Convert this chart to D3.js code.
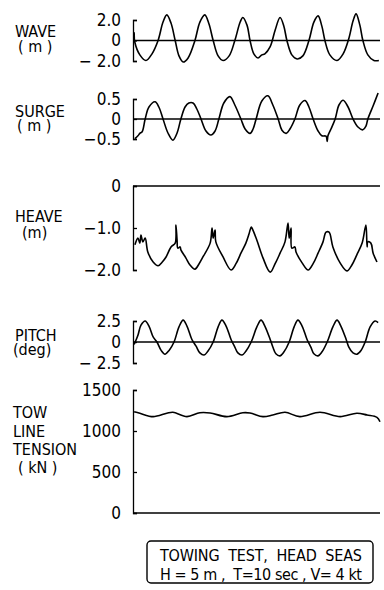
<!DOCTYPE html>
<html>
<head>
<meta charset="utf-8">
<script src="https://cdn.jsdelivr.net/npm/d3@7"></script>
<style>
  body { margin: 0; background: #fff; }
  svg text { font-family: "DejaVu Sans Condensed", "DejaVu Sans", sans-serif; font-stretch: condensed; fill: #000; }
  .axis path, .axis line { stroke: #000; stroke-width: 1.3; }
  .axis text { font-size: 17px; }
</style>
</head>
<body>
<svg id="chart"></svg>
<script>
// time (sec), value pairs
var waveData = [
  [0.3, 0.8], [0.5, -0.2], [1.8, -1.4], [3.4, -1.95], [5.0, -1.3], [6.6, 0], [7.9, 1.8], [8.9, 2.5],
  [10.0, 1.7], [11.1, 0], [12.1, -1.5], [13.2, -2.1], [14.5, -1.7], [16.3, 0], [17.6, 1.8], [18.9, 2.5],
  [20.0, 1.6], [21.1, 0], [22.4, -1.5], [23.7, -1.95], [25.3, -1.5], [26.8, 0], [28.2, 1.8], [28.9, 2.25],
  [30.0, 1.5], [30.8, 0], [31.8, -1.3], [32.9, -1.7], [33.9, -1.4], [34.7, -1.3], [36.1, -0.6], [37.4, 1.0],
  [38.7, 2.25], [39.7, 1.4], [40.5, 0], [41.8, -1.4], [43.2, -1.8], [44.7, -1.5], [46.3, 0], [47.6, 1.8],
  [48.7, 2.4], [49.7, 1.4], [50.5, 0], [51.8, -1.4], [53.7, -1.95], [55.3, -1.3], [56.8, 0.2], [57.9, 1.9],
  [58.7, 2.6], [59.7, 1.5], [60.5, 0], [61.8, -1.4], [63.4, -1.95], [64.7, -1.95]
]
var surgeData = [
  [0.5, -0.49], [1.3, -0.42], [1.8, -0.36], [2.4, -0.32], [3.2, 0], [4.2, 0.3], [5.8, 0.43], [6.8, 0.3],
  [7.9, 0], [9.2, -0.35], [10.5, -0.53], [11.6, -0.35], [12.6, 0], [13.7, 0.3], [14.7, 0.4], [15.8, 0.4],
  [16.8, 0.25], [17.9, 0], [19.2, -0.3], [20.5, -0.4], [21.6, -0.3], [22.6, 0], [23.9, 0.4], [25.5, 0.56],
  [26.8, 0.35], [28.4, 0], [29.5, -0.25], [30.8, -0.36], [31.6, -0.25], [32.4, 0], [33.9, 0.45], [35.5, 0.58],
  [36.8, 0.35], [38.2, 0], [39.2, -0.28], [40.3, -0.36], [41.3, -0.25], [42.6, 0], [43.9, 0.35], [45.3, 0.46],
  [46.3, 0.3], [47.4, 0], [48.7, -0.3], [49.7, -0.42], [50.8, -0.43], [51.1, -0.56], [51.3, -0.42], [52.1, -0.25],
  [53.2, 0], [54.2, 0.35], [55.3, 0.47], [56.6, 0.3], [57.9, 0], [59.2, -0.2], [60.5, -0.27], [61.3, -0.18],
  [61.8, 0], [63.2, 0.33], [64.5, 0.65]
]
var heaveData = [
  [0.5, -1.40], [1.3, -1.24], [1.8, -1.36], [2.1, -1.17], [2.6, -1.33], [3.2, -1.24], [3.9, -1.57], [5.3, -1.81],
  [6.6, -1.90], [7.6, -1.82], [8.7, -1.69], [10.0, -1.45], [11.1, -1.36], [11.3, -0.93], [11.6, -1.29], [11.8, -1.48],
  [12.4, -1.45], [12.6, -1.52], [13.9, -1.71], [15.0, -1.88], [16.3, -1.98], [17.4, -1.85], [18.4, -1.69], [20.3, -1.36],
  [20.8, -1.00], [21.1, -1.24], [21.6, -1.05], [21.8, -1.33], [23.7, -1.69], [25.8, -2.00], [27.1, -1.85], [28.4, -1.60],
  [29.7, -1.36], [30.5, -1.15], [31.1, -0.98], [31.3, -1.00], [32.6, -1.29], [34.2, -1.71], [36.1, -2.05], [37.4, -1.85],
  [38.7, -1.60], [40.0, -1.33], [40.8, -0.88], [41.1, -1.24], [41.6, -1.00], [41.8, -1.48], [42.6, -1.45], [42.9, -1.57],
  [44.5, -1.83], [46.1, -2.00], [47.4, -1.85], [48.7, -1.60], [50.0, -1.33], [50.8, -1.10], [51.6, -1.10], [52.6, -1.45],
  [54.5, -1.83], [56.3, -2.02], [57.6, -1.88], [58.9, -1.64], [60.3, -1.36], [61.3, -0.93], [61.6, -1.45], [61.8, -1.33],
  [62.6, -1.36], [63.2, -1.60], [64.2, -1.81]
]
var pitchData = [
  [0.3, -0.3], [1.3, 0.8], [2.1, 2.0], [3.2, 2.5], [4.2, 1.9], [5.3, 0.6], [6.3, 0], [7.4, -1.0],
  [8.4, -1.45], [9.5, -1.0], [10.8, 0], [12.1, 1.8], [13.2, 2.6], [14.2, 1.9], [15.5, 0.3], [16.6, -0.5],
  [17.6, -1.3], [18.7, -1.55], [19.7, -1.1], [21.1, 0], [22.4, 1.8], [23.4, 2.6], [24.5, 1.9], [25.8, 0.3],
  [26.8, -0.6], [27.6, -1.3], [28.7, -1.55], [29.7, -1.1], [31.1, 0], [32.6, 1.8], [33.7, 2.6], [34.7, 1.9],
  [36.1, 0.3], [36.8, -0.6], [37.6, -1.4], [38.7, -1.65], [39.7, -1.2], [41.1, 0], [42.4, 1.8], [43.4, 2.6],
  [44.5, 1.9], [45.8, 0.3], [46.8, -0.6], [47.6, -1.4], [48.7, -1.65], [49.7, -1.2], [51.1, 0], [52.6, 1.8],
  [53.7, 2.6], [54.7, 1.9], [56.1, 0.3], [56.8, -0.6], [57.9, -1.3], [58.9, -1.45], [60.0, -1.0], [61.1, 0],
  [62.4, 1.8], [63.7, 2.5], [64.5, 2.3]
]
var tensionData = [
  [0.3, 1235], [1.8, 1216], [5.3, 1175], [8.9, 1216], [10.5, 1228], [14.2, 1175], [17.6, 1223], [20.3, 1220],
  [24.7, 1175], [28.9, 1223], [30.8, 1220], [34.2, 1175], [36.8, 1195], [40.0, 1228], [43.9, 1175], [49.2, 1228],
  [54.5, 1175], [58.9, 1216], [61.6, 1195], [64.2, 1167], [65.0, 1113]
]

var panelNames = ['wave', 'surge', 'heave', 'pitch', 'tension']
var panelSeries = [waveData, surgeData, heaveData, pitchData, tensionData]
var panelDomains = [[-2, 2], [-0.5, 0.5], [-2, 0], [-2.5, 2.5], [0, 1500]]
var panelTicks = [[-2, 0, 2], [-0.5, 0, 0.5], [-2, -1, 0], [-2.5, 0, 2.5], [0, 500, 1000, 1500]]
var panelTickLabels = [
  ['\u2212 2.0', '0', '2.0'],
  ['\u22120.5', '0', '0.5'],
  ['\u22122.0', '\u22121.0', '0'],
  ['\u2212 2.5', '0', '2.5'],
  ['0', '500', '1000', '1500']
]
var panelTitles = [['WAVE', '( m )'], ['SURGE', '( m )'], ['HEAVE', '(m)'], ['PITCH', '(deg)'], ['TOW', 'LINE', 'TENSION', '( kN )']]
var captionLines = ['TOWING  TEST,  HEAD  SEAS', 'H = 5 m ,  T=10 sec , V= 4 kt']

// layout
var width = 384
var height = 590
var plotLeft = 133
var plotRight = 380
var panelTop = [20, 99, 186, 321, 390]
var panelBottom = [61, 139, 270, 363, 513]
var titleX = [[15, 18], [15, 17], [15, 22], [15, 13], [13, 13, 13, 18]]
var titleY = [[37, 52], [117, 131], [222, 238], [341, 355], [418, 437, 455, 473]]

var svg = d3.select('#chart')
  .attr('width', width)
  .attr('height', height)

var x = d3.scaleLinear()
  .domain([0, 65])
  .range([plotLeft, plotRight])

panelNames.forEach(function (name, i) {
  var y = d3.scaleLinear()
    .domain(panelDomains[i])
    .range([panelBottom[i], panelTop[i]])

  var g = svg.append('g').attr('class', 'panel ' + name)

  g.append('g')
    .attr('class', 'axis')
    .attr('transform', 'translate(' + plotLeft + ',0)')
    .call(d3.axisLeft(y)
      .tickValues(panelTicks[i])
      .tickFormat(function (d, j) { return panelTickLabels[i][j] })
      .tickSizeInner(-4)
      .tickSizeOuter(-4)
      .tickPadding(12))
    .call(function (a) { a.selectAll('text').attr('font-family', null) })

  // zero reference line across the record
  g.append('line')
    .attr('x1', plotLeft)
    .attr('x2', plotRight)
    .attr('y1', y(0))
    .attr('y2', y(0))
    .attr('stroke', '#000')
    .attr('stroke-width', 1.3)

  var line = d3.line()
    .x(function (d) { return x(d[0]) })
    .y(function (d) { return y(d[1]) })
    .curve(d3.curveCatmullRom.alpha(0.5))

  g.append('path')
    .datum(panelSeries[i])
    .attr('d', line)
    .attr('fill', 'none')
    .attr('stroke', '#000')
    .attr('stroke-width', 1.6)
    .attr('stroke-linejoin', 'round')

  g.selectAll('.title')
    .data(panelTitles[i])
    .enter().append('text')
    .attr('class', 'title')
    .attr('x', function (d, j) { return titleX[i][j] })
    .attr('y', function (d, j) { return titleY[i][j] })
    .attr('font-size', 16)
    .text(function (d) { return d })
})

// caption box
var cap = svg.append('g').attr('class', 'caption')
cap.append('rect')
  .attr('x', 147)
  .attr('y', 541)
  .attr('width', 226)
  .attr('height', 42)
  .attr('rx', 4)
  .attr('fill', 'none')
  .attr('stroke', '#000')
  .attr('stroke-width', 1.4)

cap.selectAll('text')
  .data(captionLines)
  .enter().append('text')
  .attr('x', 160)
  .attr('y', function (d, i) { return 561 + i * 19 })
  .attr('font-size', 16)
  .attr('textLength', 202)
  .attr('lengthAdjust', 'spacing')
  .style('white-space', 'pre')
  .text(function (d) { return d })
</script>
</body>
</html>
